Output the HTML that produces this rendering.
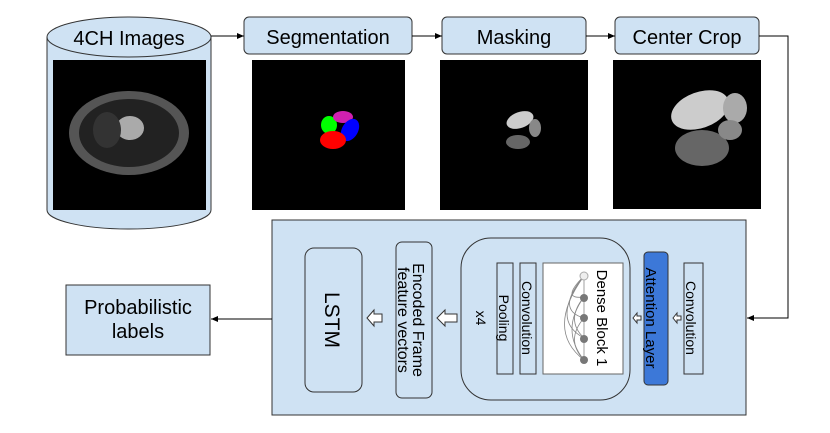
<!DOCTYPE html>
<html><head><meta charset="utf-8"><style>
html,body{margin:0;padding:0;background:#fff;}
svg{display:block;font-family:"Liberation Sans",sans-serif;}
</style></head><body>
<svg width="830" height="433" viewBox="0 0 830 433" xmlns="http://www.w3.org/2000/svg">
<defs>
<marker id="a" markerWidth="8" markerHeight="8" refX="7" refY="3" orient="auto" markerUnits="userSpaceOnUse"><path d="M0,0 L7,3 L0,6z" fill="#000"/></marker>
</defs>
<!-- cylinder -->
<path d="M47,37 L47,210 A82,19 0 0 0 211,210 L211,37" fill="#cfe2f3" stroke="#333" stroke-width="1"/>
<ellipse cx="129" cy="37" rx="82" ry="20" fill="#cfe2f3" stroke="#333"/>
<text x="129" y="45" font-size="20" text-anchor="middle">4CH Images</text>
<rect x="53" y="60" width="153" height="150" fill="#000"/>
<ellipse cx="129" cy="133" rx="60" ry="42" fill="#555"/>
<ellipse cx="129" cy="133" rx="50" ry="34" fill="#222"/>
<ellipse cx="130" cy="128" rx="14" ry="12" fill="#aaa"/>
<ellipse cx="107" cy="130" rx="14" ry="18" fill="#333"/>
<!-- seg -->
<rect x="244" y="17" width="168" height="37" rx="5" fill="#cfe2f3" stroke="#333"/>
<text x="328" y="44" font-size="20" text-anchor="middle">Segmentation</text>
<rect x="252" y="60" width="153" height="150" fill="#000"/>
<ellipse cx="329" cy="125" rx="8" ry="9" fill="#0f0"/>
<ellipse cx="343" cy="117" rx="10" ry="6" fill="#d020b0"/>
<ellipse cx="350" cy="130" rx="8" ry="12" fill="#00f" transform="rotate(30 350 130)"/>
<ellipse cx="333" cy="140" rx="13" ry="9" fill="#f00"/>
<!-- masking -->
<rect x="442" y="17" width="144" height="37" rx="5" fill="#cfe2f3" stroke="#333"/>
<text x="514" y="44" font-size="20" text-anchor="middle">Masking</text>
<rect x="440" y="60" width="148" height="150" fill="#000"/>
<ellipse cx="520" cy="120" rx="14" ry="8" fill="#ccc" transform="rotate(-20 520 120)"/>
<ellipse cx="518" cy="142" rx="12" ry="7" fill="#666"/>
<ellipse cx="535" cy="128" rx="6" ry="9" fill="#888"/>
<!-- center crop -->
<rect x="615" y="17" width="144" height="37" rx="5" fill="#cfe2f3" stroke="#333"/>
<text x="687" y="44" font-size="20" text-anchor="middle">Center Crop</text>
<rect x="613" y="60" width="148" height="149" fill="#000"/>
<ellipse cx="700" cy="110" rx="30" ry="18" fill="#ccc" transform="rotate(-20 700 110)"/>
<ellipse cx="735" cy="108" rx="12" ry="15" fill="#aaa"/>
<ellipse cx="702" cy="148" rx="27" ry="18" fill="#666"/>
<ellipse cx="730" cy="130" rx="12" ry="10" fill="#888"/>
<!-- top arrows -->
<line x1="211" y1="36" x2="244" y2="36" stroke="#000" marker-end="url(#a)"/>
<line x1="412" y1="36" x2="442" y2="36" stroke="#000" marker-end="url(#a)"/>
<line x1="586" y1="36" x2="615" y2="36" stroke="#000" marker-end="url(#a)"/>
<polyline points="759,36 788,36 788,318 747,318" fill="none" stroke="#000" marker-end="url(#a)"/>
<!-- panel -->
<rect x="272" y="220" width="474" height="195" fill="#cfe2f3" stroke="#333"/>
<line x1="272" y1="319" x2="211" y2="319" stroke="#000" marker-end="url(#a)"/>
<rect x="66" y="285" width="144" height="70" fill="#cfe2f3" stroke="#333"/>
<text x="138" y="314" font-size="20" text-anchor="middle">Probabilistic</text>
<text x="138" y="338" font-size="20" text-anchor="middle">labels</text>
<!-- LSTM -->
<rect x="305" y="248" width="57" height="144" rx="9" fill="#cfe2f3" stroke="#333"/>
<text transform="translate(325,320) rotate(90)" font-size="21" text-anchor="middle">LSTM</text>
<rect x="396" y="242" width="36" height="156" rx="6" fill="#cfe2f3" stroke="#333"/>
<text transform="translate(413,320) rotate(90)" font-size="16" text-anchor="middle">Encoded Frame</text>
<text transform="translate(398,320) rotate(90)" font-size="16" text-anchor="middle">feature vectors</text>
<rect x="461" y="238" width="169" height="162" rx="30" fill="#cfe2f3" stroke="#333"/>
<text transform="translate(476,318) rotate(90)" font-size="14" text-anchor="middle">x4</text>
<rect x="497" y="263" width="16" height="111" fill="#cfe2f3" stroke="#333"/>
<text transform="translate(499,318) rotate(90)" font-size="14" text-anchor="middle">Pooling</text>
<rect x="520" y="263" width="16" height="111" fill="#cfe2f3" stroke="#333"/>
<text transform="translate(522,318) rotate(90)" font-size="14" text-anchor="middle">Convolution</text>
<rect x="543" y="263" width="80" height="111" fill="#fff" stroke="#666"/>
<text transform="translate(597,318) rotate(90)" font-size="15" text-anchor="middle">Dense Block 1</text>
<g stroke="#888" fill="none" stroke-width="0.8">
<line x1="584" y1="276" x2="584" y2="360"/>
<path d="M584,276 Q560,300 584,297"/><path d="M584,276 Q555,310 584,318"/><path d="M584,276 Q550,320 584,338"/><path d="M584,276 Q545,330 584,360"/>
<path d="M584,297 Q565,320 584,338"/><path d="M584,318 Q565,340 584,360"/><path d="M584,297 Q560,330 584,360"/>
</g>
<circle cx="584" cy="276" r="4" fill="#eee" stroke="#aaa"/>
<circle cx="584" cy="298" r="4" fill="#777"/>
<circle cx="584" cy="318" r="4" fill="#777"/>
<circle cx="584" cy="339" r="4" fill="#777"/>
<circle cx="584" cy="360" r="4" fill="#777"/>
<rect x="644" y="252" width="24" height="133" rx="4" fill="#3c78d8" stroke="#333"/>
<text transform="translate(646,318) rotate(90)" font-size="15" text-anchor="middle" fill="#000">Attention Layer</text>
<rect x="684" y="263" width="19" height="111" fill="#cfe2f3" stroke="#333"/>
<text transform="translate(686,318) rotate(90)" font-size="14" text-anchor="middle">Convolution</text>
<!-- hollow arrows (pointing left) -->
<g fill="#fff" stroke="#333" stroke-width="1">
<path d="M367,318 L374,310 L374,314 L382,314 L382,322 L374,322 L374,326 Z"/>
<path d="M437,318 L445,310 L445,314 L457,314 L457,322 L445,322 L445,326 Z"/>
<path d="M633,318 L637,313 L637,316 L641,316 L641,320 L637,320 L637,323 Z"/>
<path d="M673,318 L677,313 L677,316 L681,316 L681,320 L677,320 L677,323 Z"/>
</g>
</svg>
</body></html>
